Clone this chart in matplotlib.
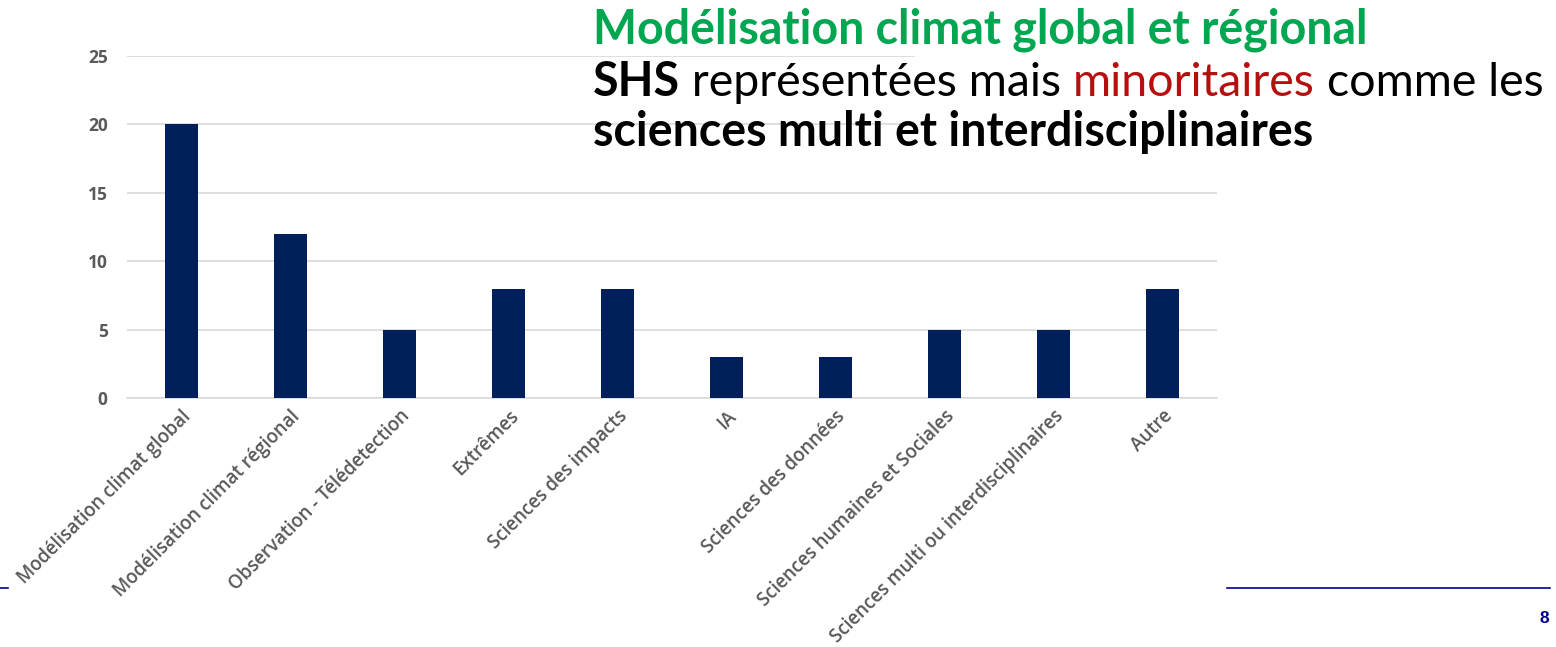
import matplotlib
matplotlib.use("Agg")
import matplotlib.pyplot as plt
from matplotlib.patches import Rectangle
from matplotlib.lines import Line2D

categories = [
    "Modélisation climat global",
    "Modélisation climat régional",
    "Observation - Télédetection",
    "Extrêmes",
    "Sciences des impacts",
    "IA",
    "Sciences des données",
    "Sciences humaines et Sociales",
    "Sciences multi ou interdisciplinaires",
    "Autre",
]
counts = [20, 12, 5, 8, 8, 3, 3, 5, 5, 8]
y_ticks = [0, 5, 10, 15, 20, 25]

title_line1 = [("Modélisation climat global et régional", "#00a650", "bold")]
title_line2 = [
    ("SHS", "black", "bold"),
    (" représentées mais ", "black", "normal"),
    ("minoritaires", "#b50f0f", "normal"),
    (" comme les", "black", "normal"),
]
title_line3 = [("sciences multi et interdisciplinaires", "black", "bold")]

W, H = 1556, 647
fig = plt.figure(figsize=(W / 100, H / 100), dpi=100)
fig.patch.set_facecolor("white")

ax = fig.add_axes([127 / W, 1 - 398 / H, (1217 - 127) / W, (398 - 56) / H])
x = list(range(len(categories)))
ax.bar(x, counts, width=0.31, color="#001f5b", zorder=3)
ax.set_xlim(-0.5, len(categories) - 0.5)
ax.set_ylim(0, 25)
ax.set_yticks(y_ticks)
ax.set_yticklabels([str(v) for v in y_ticks], fontsize=12.5, color="#595959",
                   fontweight="bold", family="Open Sans")
ax.set_xticks(x)
ax.set_xticklabels(categories, rotation=45, ha="right", va="top",
                   rotation_mode="anchor", fontsize=13.4, color="#595959",
                   fontweight="semibold", family="Open Sans")
ax.tick_params(axis="both", length=0)
ax.tick_params(axis="y", pad=14)
ax.tick_params(axis="x", pad=6)
ax.grid(axis="y", color="#d9d9d9", linewidth=1.2, zorder=0)
for s in ["top", "right", "left"]:
    ax.spines[s].set_visible(False)
ax.spines["bottom"].set_color("#d9d9d9")
ax.spines["bottom"].set_linewidth(1.2)

# white box behind the heading text (hides the right part of the grid)
fig.add_artist(Rectangle((915 / W, 1 - 160 / H), (W - 915) / W, 160 / H,
                         transform=fig.transFigure, facecolor="white",
                         edgecolor="none", zorder=4))

renderer = fig.canvas.get_renderer()


def draw_line(pieces, x0, baseline, size):
    xpos = x0
    for txt, col, wt in pieces:
        t = fig.text(xpos / W, 1 - baseline / H, txt, color=col, fontweight=wt,
                     fontsize=size, family="Lato", va="baseline", ha="left",
                     zorder=5)
        bb = t.get_window_extent(renderer=renderer)
        xpos += bb.width


draw_line(title_line1, 593, 44, 33.5)
draw_line(title_line2, 593, 96, 33.5)
draw_line(title_line3, 593, 146, 33.5)

# footer line and page number
blue = "#000091"
fig.add_artist(Line2D([0, 8 / W], [1 - 588 / H] * 2, color=blue, lw=1.2,
                      transform=fig.transFigure))
fig.add_artist(Line2D([1227 / W, 1550 / W], [1 - 588 / H] * 2, color=blue,
                      lw=1.2, transform=fig.transFigure))
fig.text(1549 / W, 1 - 623 / H, "8", color=blue, fontweight="bold",
         fontsize=12.5, family="Liberation Sans", ha="right", va="baseline")

fig.savefig("out.png", dpi=100, facecolor="white")
